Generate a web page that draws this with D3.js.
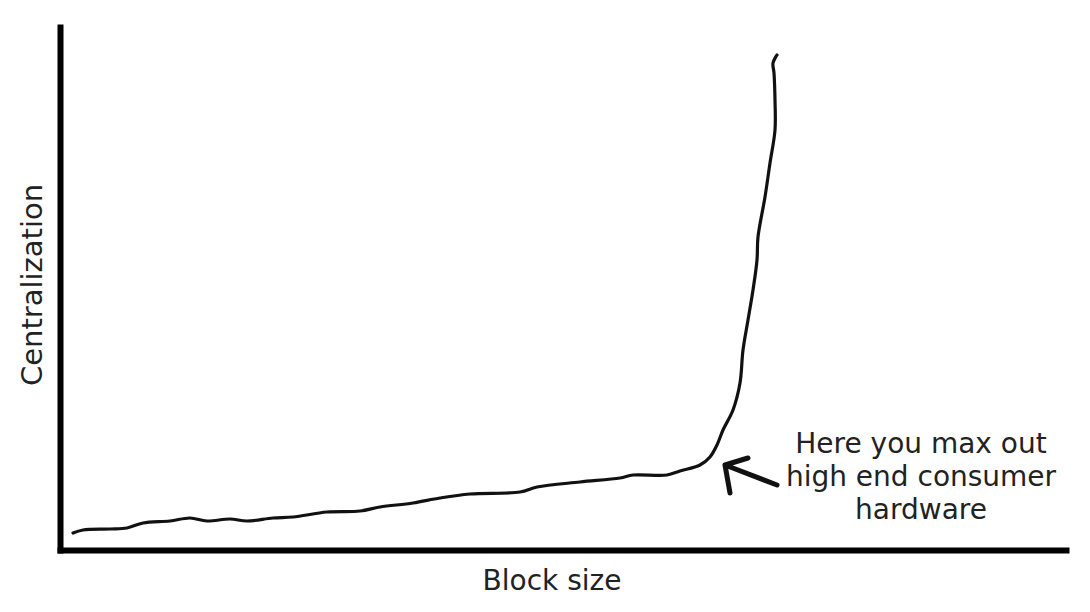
<!DOCTYPE html>
<html>
<head>
<meta charset="utf-8">
<script src="https://cdn.jsdelivr.net/npm/d3@7"></script>
<style>
    body { margin:0; background:white; }
    text { font-family:"DejaVu Sans", sans-serif; fill:#222; }
</style>
</head>
<body>
<svg id="chart"></svg>
<script>
// hand drawn curve (block size, centralization)
var blockSize = [1.3, 2.3, 5.0, 6.7, 8.3, 11.0, 13.0, 14.7, 17.0, 18.7, 21.3, 23.3, 26.7, 30.0, 32.0,
                 35.3, 38.0, 41.0, 46.0, 47.7, 52.0, 56.0, 57.3, 60.7, 62.0, 64.0, 65.0, 65.7, 66.3,
                 67.3, 68.0, 68.3, 68.8, 69.3, 69.7, 69.8, 70.5, 71.0, 71.5, 71.5, 71.4, 71.3, 71.7];
var centralization = [1.7, 2.0, 2.1, 2.2, 2.7, 2.9, 3.2, 2.9, 3.1, 2.9, 3.2, 3.3, 3.8, 3.9, 4.3,
                      4.7, 5.2, 5.6, 5.8, 6.3, 6.8, 7.2, 7.5, 7.5, 7.9, 8.5, 9.3, 10.5, 12.0,
                      14.0, 16.7, 20.0, 23.0, 26.0, 29.0, 31.3, 35.3, 38.7, 42.0, 45.0, 47.7, 48.7, 49.5];

var xTitle = "Block size";
var yTitle = "Centralization";
var noteLines = ["Here you max out", "high end consumer", "hardware"];

// arrow pointing at the knee: tip, shaft end, two wings (data units)
var arrowTip = [66.5, 8.5];
var arrowTail = [71.7, 6.5];
var arrowWings = [[67.0, 5.7], [68.8, 9.2]];
var notePos = [86.1, 9.7];

var initChart = function(target)
{
    var screen = {width:1090, height:612}
    var margins = {top:27, bottom:62, left:60, right:24}
    var graph =
    {
        width:screen.width-margins.left-margins.right,
        height:screen.height-margins.top-margins.bottom,
    }

    d3.select(target)
        .attr("width", screen.width)
        .attr("height", screen.height)

    var x = d3.scaleLinear()
            .domain([0, graph.width/10])
            .range([0, graph.width]);

    var y = d3.scaleLinear()
            .domain([0, graph.height/10])
            .range([graph.height, 0]);

    var g = d3.select(target)
        .append("g")
        .classed("graph", true)
        .attr("transform", "translate("+margins.left+","+margins.top+")");

    // curve
    var points = blockSize.map(function(b, i)
    {
        return {x:b, y:centralization[i]}
    });

    var line = d3.line()
        .x(function(entry) { return x(entry.x) })
        .y(function(entry) { return y(entry.y) })
        .curve(d3.curveCatmullRom);

    g.append("path")
        .datum(points)
        .attr("d", line)
        .attr("fill", "none")
        .attr("stroke", "#111")
        .attr("stroke-width", 3.2)
        .attr("stroke-linejoin", "round")
        .attr("stroke-linecap", "round");

    // axes, just the thick lines
    var xAxis = d3.axisBottom(x).tickValues([]).tickSizeOuter(0);
    var yAxis = d3.axisLeft(y).tickValues([]).tickSizeOuter(0);

    g.append("g")
        .attr("id", "xAxis")
        .attr("transform", "translate(0,"+graph.height+")")
        .call(xAxis)
    g.append("g")
        .attr("id", "yAxis")
        .call(yAxis)

    g.selectAll(".domain")
        .attr("stroke", "black")
        .attr("stroke-width", 6)
        .attr("stroke-linecap", "square")

    // arrow
    var arrowPath = d3.path();
    arrowPath.moveTo(x(arrowTail[0]), y(arrowTail[1]));
    arrowPath.lineTo(x(arrowTip[0]), y(arrowTip[1]));
    arrowWings.forEach(function(w)
    {
        arrowPath.moveTo(x(arrowTip[0]), y(arrowTip[1]));
        arrowPath.lineTo(x(w[0]), y(w[1]));
    });
    g.append("path")
        .attr("d", arrowPath.toString())
        .attr("fill", "none")
        .attr("stroke", "#111")
        .attr("stroke-width", 5)
        .attr("stroke-linecap", "round");

    // labels
    var labels = d3.select(target)
        .append("g")
        .classed("labels", true)

    labels.append("text")
        .text(xTitle)
        .attr("x", margins.left + x(49.2))
        .attr("y", 590)
        .attr("text-anchor", "middle")
        .attr("font-size", 28)

    labels.append("text")
        .text(yTitle)
        .attr("transform", "translate(42,"+(margins.top + y(26.5))+") rotate(-90)")
        .attr("text-anchor", "middle")
        .attr("font-size", 29)

    labels.append("text")
        .attr("x", margins.left + x(notePos[0]))
        .attr("y", margins.top + y(notePos[1]))
        .attr("text-anchor", "middle")
        .attr("font-size", 28)
        .selectAll("tspan")
        .data(noteLines)
        .enter()
        .append("tspan")
        .attr("x", margins.left + x(notePos[0]))
        .attr("dy", function(d, i) { return i == 0 ? 0 : 33 })
        .text(function(d) { return d })
};

initChart("#chart");
</script>
</body>
</html>
